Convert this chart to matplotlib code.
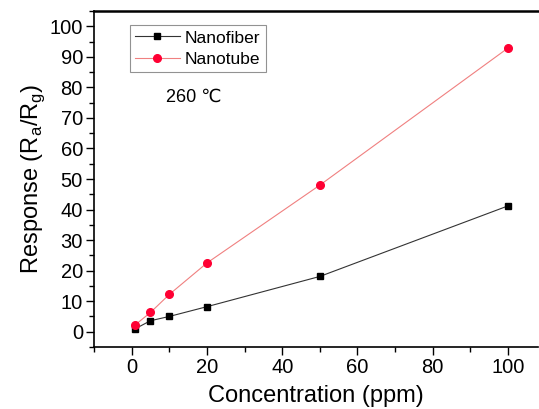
import numpy as np
import matplotlib.pyplot as plt
from matplotlib.ticker import MultipleLocator

plt.rcParams['font.family'] = ['Liberation Sans', 'DejaVu Sans']

# data
conc = [1, 5, 10, 20, 50, 100]
nanofiber = [1.0, 3.6, 5.0, 8.2, 18.1, 41.2]
nanotube = [2.3, 6.3, 12.2, 22.5, 48.0, 92.9]

fig = plt.figure(figsize=(5.39, 4.09), dpi=100)
ax = fig.add_axes([0.1744, 0.1516, 0.824, 0.8214])

ax.plot(conc, nanofiber, color='#333333', lw=0.8, marker='s', ms=5,
        mfc='black', mec='black', label='Nanofiber')
ax.plot(conc, nanotube, color='#f08080', lw=0.8, marker='o', ms=5.5,
        mfc='#ff0033', mec='#ff0033', label='Nanotube')

ax.set_xlim(-10, 108)
ax.set_ylim(-5, 105)
ax.xaxis.set_major_locator(MultipleLocator(20))
ax.xaxis.set_minor_locator(MultipleLocator(10))
ax.yaxis.set_major_locator(MultipleLocator(10))
ax.yaxis.set_minor_locator(MultipleLocator(5))
ax.tick_params(which='both', direction='out', top=False, right=False, labelsize=14.5)
ax.tick_params(which='major', length=6, width=1, pad=2)
ax.tick_params(which='minor', length=3.5, width=1)

ax.spines['top'].set_linewidth(1.8)
ax.spines['bottom'].set_linewidth(1.2)
ax.spines['left'].set_linewidth(1.2)
ax.spines['right'].set_visible(False)

ax.set_xlabel('Concentration (ppm)', fontsize=17, labelpad=6)
ax.set_ylabel('Response (R$_\\mathregular{a}$/R$_\\mathregular{g}$)', fontsize=17, labelpad=2)

leg = ax.legend(loc='upper left', bbox_to_anchor=(0.08, 0.958), fontsize=12.5,
                frameon=True, fancybox=False, edgecolor='#777777',
                handlelength=2.6, borderpad=0.3, labelspacing=0.35,
                handletextpad=0.3, borderaxespad=0)
leg.get_frame().set_linewidth(0.8)

ax.text(0.163, 0.73, '260 ℃', transform=ax.transAxes, fontsize=13)

fig.savefig('out.png', dpi=100)
